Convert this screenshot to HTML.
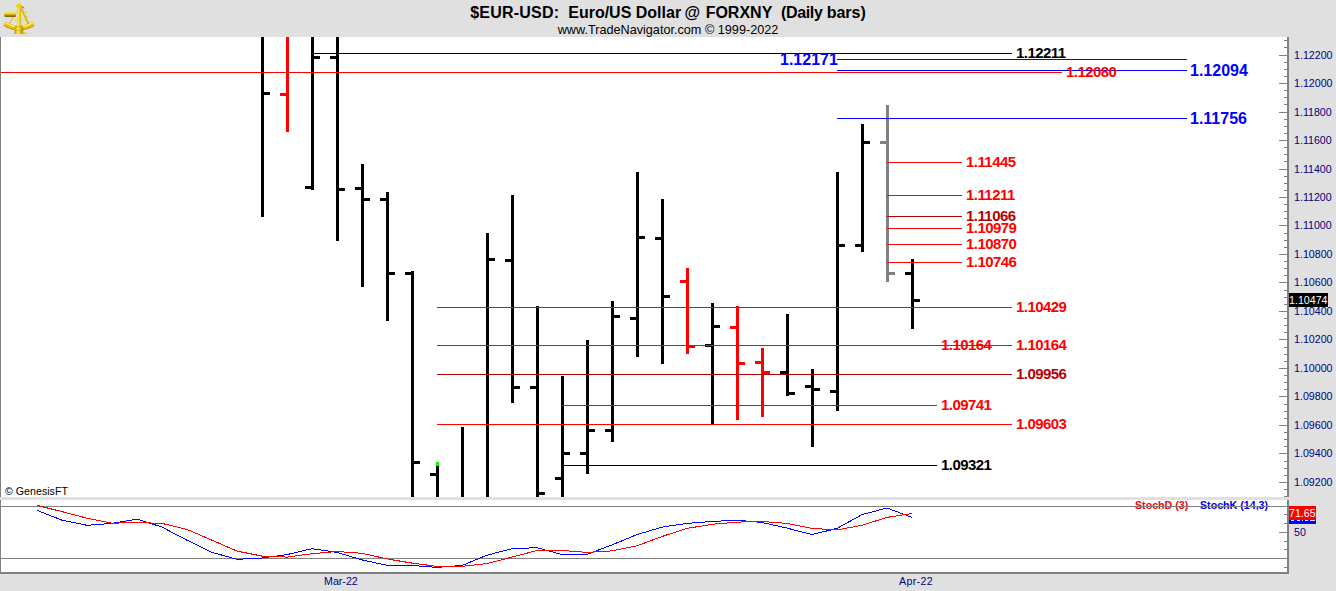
<!DOCTYPE html>
<html><head><meta charset="utf-8"><title>$EUR-USD Daily bars</title>
<style>
html,body{margin:0;padding:0;background:#e0e0e0;}
#c{position:relative;width:1336px;height:591px;overflow:hidden;background:#e0e0e0;font-family:"Liberation Sans",Arial,sans-serif;}
#c div,#c span,#c svg{position:absolute;display:block;white-space:pre;}
.t1 b,.t1 i{font:inherit;}
.t1{left:0;width:1336px;top:4px;text-align:center;font-weight:bold;font-size:16px;line-height:18px;color:#000;}
.t2{left:0;width:1336px;top:23px;text-align:center;font-size:12.67px;line-height:15px;color:#000;}
.p14{font-weight:bold;font-size:15px;line-height:16px;letter-spacing:-0.55px;}
.p16{font-weight:bold;font-size:16px;line-height:18px;}
.ax{font-size:10.67px;line-height:12px;color:#000080;}
.sm{font-size:10.67px;line-height:12px;}
.b{font-weight:bold;}
</style></head><body><div id="c">
<span class="t1"><b style="letter-spacing:.22px">$EUR-USD:</b>  Euro/US Dollar<i style="margin-left:-1px"> </i>@<i style="margin-left:1px"> </i>FORXNY  <b style="letter-spacing:-.33px">(Daily </b>bars)</span>
<span class="t2">www.TradeNavigator.com © 1999-2022</span>
<svg style="left:0;top:0" width="40" height="37" viewBox="0 0 40 37">
<defs><linearGradient id="gd" x1="0" y1="0" x2="0" y2="1"><stop offset="0" stop-color="#fff27a"/><stop offset=".45" stop-color="#e8c614"/><stop offset="1" stop-color="#8a6a00"/></linearGradient>
<linearGradient id="gh" x1="0" y1="0" x2="1" y2="0"><stop offset="0" stop-color="#c09800"/><stop offset=".4" stop-color="#ffec52"/><stop offset="1" stop-color="#b08a00"/></linearGradient></defs>
<path d="M16.4 11.5 L9.4 23.4" stroke="#e8c820" stroke-width="1.3" fill="none"/><path d="M11.5 20 L27 20" stroke="#f0da50" stroke-width=".8" fill="none"/>
<path d="M21 8 L28.6 24" stroke="#dcb810" stroke-width="1.9" fill="none"/>
<path d="M24.4 14.6 L26.6 11.6 M26 18.6 L27.8 16" stroke="#f0d428" stroke-width="1.6" fill="none"/>
<path d="M4.7 23.7 Q19.1 32.3 33.4 23.7" stroke="#a88400" stroke-width="4.6" fill="none"/>
<path d="M4.6 23.4 Q19.1 32 33.5 23.4" stroke="#e8c614" stroke-width="3.6" fill="none"/>
<path d="M5.4 22.4 Q19.1 30.6 32.8 22.4" stroke="#fff47a" stroke-width="1.2" fill="none"/>
<rect x="4.2" y="11.9" width="11.8" height="4.6" rx=".8" fill="url(#gd)"/><rect x="4.8" y="15.8" width="11" height=".9" fill="#6a5200"/>
<path d="M17 6 L21 6 L21.2 25.6 L23.2 27 L23.2 34 L14.5 34 L14.5 27 L16.8 25.6Z" fill="url(#gh)"/>
<path d="M15.2 26.8 L22.6 26.8 M15.2 30.6 L22.6 30.6" stroke="#b89400" stroke-width=".5"/>
<path d="M15.6 7.3 L16.3 4.7 L18.8 2.7 L21.3 4.7 L22.4 7.3Z" fill="#ecca1c"/><path d="M16.6 5 L18.8 3.2 L19.4 4" stroke="#fff27a" stroke-width=".7" fill="none"/>
<path d="M21.8 6.2 L23.8 8.4" stroke="#5a4600" stroke-width="1"/>
<rect x="23.2" y="32.4" width="3.4" height="1.8" fill="#ecc818"/>
</svg>
<!-- chart panes -->
<div style="left:0px;top:37px;width:1287px;height:460px;background:#fff;"></div>
<div style="left:0px;top:500px;width:1287px;height:72px;background:#fff;"></div>
<!-- price bars -->
<div style="left:261px;top:37px;width:3px;height:180px;background:#000;"></div>
<div style="left:264px;top:92px;width:6px;height:3px;background:#000;"></div>
<div style="left:286px;top:37px;width:3px;height:95px;background:#f00;"></div>
<div style="left:280px;top:93px;width:6px;height:3px;background:#f00;"></div>
<div style="left:311px;top:37px;width:3px;height:153px;background:#000;"></div>
<div style="left:305px;top:186px;width:6px;height:3px;background:#000;"></div>
<div style="left:314px;top:56px;width:6px;height:3px;background:#000;"></div>
<div style="left:336px;top:37px;width:3px;height:204px;background:#000;"></div>
<div style="left:330px;top:56px;width:6px;height:3px;background:#000;"></div>
<div style="left:339px;top:188px;width:6px;height:3px;background:#000;"></div>
<div style="left:361px;top:164px;width:3px;height:123px;background:#000;"></div>
<div style="left:355px;top:187px;width:6px;height:3px;background:#000;"></div>
<div style="left:364px;top:198px;width:6px;height:3px;background:#000;"></div>
<div style="left:386px;top:192px;width:3px;height:129px;background:#000;"></div>
<div style="left:380px;top:198px;width:6px;height:3px;background:#000;"></div>
<div style="left:389px;top:272px;width:6px;height:3px;background:#000;"></div>
<div style="left:411px;top:271px;width:3px;height:226px;background:#000;"></div>
<div style="left:405px;top:272px;width:6px;height:3px;background:#000;"></div>
<div style="left:414px;top:461px;width:6px;height:3px;background:#000;"></div>
<div style="left:436px;top:462px;width:3px;height:35px;background:#000;"></div>
<div style="left:430px;top:473px;width:6px;height:3px;background:#000;"></div>
<div style="left:461px;top:427px;width:3px;height:70px;background:#000;"></div>
<div style="left:486px;top:233px;width:3px;height:264px;background:#000;"></div>
<div style="left:489px;top:258px;width:6px;height:3px;background:#000;"></div>
<div style="left:511px;top:195px;width:3px;height:208px;background:#000;"></div>
<div style="left:505px;top:259px;width:6px;height:3px;background:#000;"></div>
<div style="left:514px;top:386px;width:6px;height:3px;background:#000;"></div>
<div style="left:536px;top:306px;width:3px;height:191px;background:#000;"></div>
<div style="left:530px;top:386px;width:6px;height:3px;background:#000;"></div>
<div style="left:539px;top:492px;width:6px;height:3px;background:#000;"></div>
<div style="left:561px;top:376px;width:3px;height:121px;background:#000;"></div>
<div style="left:555px;top:477px;width:6px;height:3px;background:#000;"></div>
<div style="left:564px;top:452px;width:6px;height:3px;background:#000;"></div>
<div style="left:586px;top:340px;width:3px;height:134px;background:#000;"></div>
<div style="left:580px;top:452px;width:6px;height:3px;background:#000;"></div>
<div style="left:589px;top:429px;width:6px;height:3px;background:#000;"></div>
<div style="left:611px;top:301px;width:3px;height:141px;background:#000;"></div>
<div style="left:605px;top:429px;width:6px;height:3px;background:#000;"></div>
<div style="left:614px;top:315px;width:6px;height:3px;background:#000;"></div>
<div style="left:636px;top:172px;width:3px;height:185px;background:#000;"></div>
<div style="left:630px;top:317px;width:6px;height:3px;background:#000;"></div>
<div style="left:639px;top:236px;width:6px;height:3px;background:#000;"></div>
<div style="left:661px;top:199px;width:3px;height:165px;background:#000;"></div>
<div style="left:655px;top:237px;width:6px;height:3px;background:#000;"></div>
<div style="left:664px;top:295px;width:6px;height:3px;background:#000;"></div>
<div style="left:686px;top:268px;width:3px;height:86px;background:#f00;"></div>
<div style="left:680px;top:280px;width:6px;height:3px;background:#f00;"></div>
<div style="left:689px;top:345px;width:6px;height:3px;background:#f00;"></div>
<div style="left:711px;top:303px;width:3px;height:122px;background:#000;"></div>
<div style="left:705px;top:344px;width:6px;height:3px;background:#000;"></div>
<div style="left:714px;top:325px;width:6px;height:3px;background:#000;"></div>
<div style="left:736px;top:306px;width:3px;height:114px;background:#f00;"></div>
<div style="left:730px;top:326px;width:6px;height:3px;background:#f00;"></div>
<div style="left:739px;top:362px;width:6px;height:3px;background:#f00;"></div>
<div style="left:761px;top:348px;width:3px;height:69px;background:#f00;"></div>
<div style="left:755px;top:361px;width:6px;height:3px;background:#f00;"></div>
<div style="left:764px;top:371px;width:6px;height:3px;background:#f00;"></div>
<div style="left:786px;top:314px;width:3px;height:82px;background:#000;"></div>
<div style="left:780px;top:371px;width:6px;height:3px;background:#000;"></div>
<div style="left:789px;top:392px;width:6px;height:3px;background:#000;"></div>
<div style="left:811px;top:369px;width:3px;height:78px;background:#000;"></div>
<div style="left:805px;top:385px;width:6px;height:3px;background:#000;"></div>
<div style="left:814px;top:388px;width:6px;height:3px;background:#000;"></div>
<div style="left:836px;top:172px;width:3px;height:239px;background:#000;"></div>
<div style="left:830px;top:390px;width:6px;height:3px;background:#000;"></div>
<div style="left:839px;top:244px;width:6px;height:3px;background:#000;"></div>
<div style="left:861px;top:124px;width:3px;height:128px;background:#000;"></div>
<div style="left:855px;top:244px;width:6px;height:3px;background:#000;"></div>
<div style="left:864px;top:141px;width:6px;height:3px;background:#000;"></div>
<div style="left:886px;top:105px;width:3px;height:177px;background:#808080;"></div>
<div style="left:880px;top:141px;width:6px;height:3px;background:#808080;"></div>
<div style="left:889px;top:272px;width:6px;height:3px;background:#808080;"></div>
<div style="left:911px;top:259px;width:3px;height:70px;background:#000;"></div>
<div style="left:905px;top:272px;width:6px;height:3px;background:#000;"></div>
<div style="left:914px;top:299px;width:6px;height:3px;background:#000;"></div>
<div style="left:436px;top:462px;width:3px;height:4px;background:#0f0;"></div>
<!-- study lines (drawn over bars) -->
<div style="left:313px;top:53px;width:699px;height:1px;background:#000;"></div>
<div style="left:1px;top:72px;width:1061px;height:1px;background:#f00;"></div>
<div style="left:837px;top:59px;width:350px;height:1px;background:#00f;"></div>
<div style="left:837px;top:70px;width:350px;height:1px;background:#00f;"></div>
<div style="left:837px;top:118px;width:350px;height:1px;background:#00f;"></div>
<div style="left:437px;top:307px;width:575px;height:1px;background:#f00;"></div>
<div style="left:437px;top:345px;width:575px;height:1px;background:#f00;"></div>
<div style="left:437px;top:374px;width:575px;height:1px;background:#b80000;"></div>
<div style="left:562px;top:405px;width:375px;height:1px;background:#f00;"></div>
<div style="left:437px;top:424px;width:575px;height:1px;background:#f00;"></div>
<div style="left:564px;top:465px;width:373px;height:1px;background:#000;"></div>
<div style="left:887px;top:162px;width:75px;height:1px;background:#f00;"></div>
<div style="left:887px;top:195px;width:75px;height:1px;background:#f00;"></div>
<div style="left:887px;top:216px;width:75px;height:1px;background:#b80000;"></div>
<div style="left:887px;top:228px;width:75px;height:1px;background:#f00;"></div>
<div style="left:887px;top:244px;width:75px;height:1px;background:#f00;"></div>
<div style="left:887px;top:262px;width:75px;height:1px;background:#f00;"></div>
<!-- price labels -->
<span class="p14" style="left:1016px;top:45px;color:#000">1.12211</span>
<span class="p14" style="left:1066px;top:64px;color:#f00">1.12080</span>
<span class="p16" style="left:780px;top:51px;color:#00f">1.12171</span>
<span class="p16" style="left:1190px;top:62px;color:#00f">1.12094</span>
<span class="p16" style="left:1190px;top:110px;color:#00f">1.11756</span>
<span class="p14" style="left:966px;top:154px;color:#f00">1.11445</span>
<span class="p14" style="left:966px;top:187px;color:#f00">1.11211</span>
<span class="p14" style="left:966px;top:208px;color:#b80000">1.11066</span>
<span class="p14" style="left:966px;top:220px;color:#f00">1.10979</span>
<span class="p14" style="left:966px;top:236px;color:#f00">1.10870</span>
<span class="p14" style="left:966px;top:254px;color:#f00">1.10746</span>
<span class="p14" style="left:1016px;top:299px;color:#f00">1.10429</span>
<span class="p14" style="left:941px;top:337px;color:#f00">1.10164</span>
<span class="p14" style="left:1016px;top:337px;color:#f00">1.10164</span>
<span class="p14" style="left:1016px;top:366px;color:#b80000">1.09956</span>
<span class="p14" style="left:941px;top:397px;color:#f00">1.09741</span>
<span class="p14" style="left:1016px;top:416px;color:#f00">1.09603</span>
<span class="p14" style="left:941px;top:457px;color:#000">1.09321</span>
<!-- right price axis -->
<div style="left:1287px;top:37px;width:2px;height:460px;background:#808080;"></div>
<div style="left:1284px;top:40px;width:3px;height:1px;background:#808080;"></div>
<div style="left:1284px;top:47px;width:3px;height:1px;background:#808080;"></div>
<div style="left:1279px;top:55px;width:8px;height:1px;background:#808080;"></div>
<div style="left:1284px;top:62px;width:3px;height:1px;background:#808080;"></div>
<div style="left:1284px;top:69px;width:3px;height:1px;background:#808080;"></div>
<div style="left:1284px;top:76px;width:3px;height:1px;background:#808080;"></div>
<div style="left:1279px;top:83px;width:8px;height:1px;background:#808080;"></div>
<div style="left:1284px;top:90px;width:3px;height:1px;background:#808080;"></div>
<div style="left:1284px;top:97px;width:3px;height:1px;background:#808080;"></div>
<div style="left:1284px;top:104px;width:3px;height:1px;background:#808080;"></div>
<div style="left:1279px;top:112px;width:8px;height:1px;background:#808080;"></div>
<div style="left:1284px;top:119px;width:3px;height:1px;background:#808080;"></div>
<div style="left:1284px;top:126px;width:3px;height:1px;background:#808080;"></div>
<div style="left:1284px;top:133px;width:3px;height:1px;background:#808080;"></div>
<div style="left:1279px;top:140px;width:8px;height:1px;background:#808080;"></div>
<div style="left:1284px;top:147px;width:3px;height:1px;background:#808080;"></div>
<div style="left:1284px;top:154px;width:3px;height:1px;background:#808080;"></div>
<div style="left:1284px;top:161px;width:3px;height:1px;background:#808080;"></div>
<div style="left:1279px;top:169px;width:8px;height:1px;background:#808080;"></div>
<div style="left:1284px;top:176px;width:3px;height:1px;background:#808080;"></div>
<div style="left:1284px;top:183px;width:3px;height:1px;background:#808080;"></div>
<div style="left:1284px;top:190px;width:3px;height:1px;background:#808080;"></div>
<div style="left:1279px;top:197px;width:8px;height:1px;background:#808080;"></div>
<div style="left:1284px;top:204px;width:3px;height:1px;background:#808080;"></div>
<div style="left:1284px;top:211px;width:3px;height:1px;background:#808080;"></div>
<div style="left:1284px;top:218px;width:3px;height:1px;background:#808080;"></div>
<div style="left:1279px;top:225px;width:8px;height:1px;background:#808080;"></div>
<div style="left:1284px;top:233px;width:3px;height:1px;background:#808080;"></div>
<div style="left:1284px;top:240px;width:3px;height:1px;background:#808080;"></div>
<div style="left:1284px;top:247px;width:3px;height:1px;background:#808080;"></div>
<div style="left:1279px;top:254px;width:8px;height:1px;background:#808080;"></div>
<div style="left:1284px;top:261px;width:3px;height:1px;background:#808080;"></div>
<div style="left:1284px;top:268px;width:3px;height:1px;background:#808080;"></div>
<div style="left:1284px;top:275px;width:3px;height:1px;background:#808080;"></div>
<div style="left:1279px;top:282px;width:8px;height:1px;background:#808080;"></div>
<div style="left:1284px;top:290px;width:3px;height:1px;background:#808080;"></div>
<div style="left:1284px;top:297px;width:3px;height:1px;background:#808080;"></div>
<div style="left:1284px;top:304px;width:3px;height:1px;background:#808080;"></div>
<div style="left:1279px;top:311px;width:8px;height:1px;background:#808080;"></div>
<div style="left:1284px;top:318px;width:3px;height:1px;background:#808080;"></div>
<div style="left:1284px;top:325px;width:3px;height:1px;background:#808080;"></div>
<div style="left:1284px;top:332px;width:3px;height:1px;background:#808080;"></div>
<div style="left:1279px;top:339px;width:8px;height:1px;background:#808080;"></div>
<div style="left:1284px;top:347px;width:3px;height:1px;background:#808080;"></div>
<div style="left:1284px;top:354px;width:3px;height:1px;background:#808080;"></div>
<div style="left:1284px;top:361px;width:3px;height:1px;background:#808080;"></div>
<div style="left:1279px;top:368px;width:8px;height:1px;background:#808080;"></div>
<div style="left:1284px;top:375px;width:3px;height:1px;background:#808080;"></div>
<div style="left:1284px;top:382px;width:3px;height:1px;background:#808080;"></div>
<div style="left:1284px;top:389px;width:3px;height:1px;background:#808080;"></div>
<div style="left:1279px;top:396px;width:8px;height:1px;background:#808080;"></div>
<div style="left:1284px;top:404px;width:3px;height:1px;background:#808080;"></div>
<div style="left:1284px;top:411px;width:3px;height:1px;background:#808080;"></div>
<div style="left:1284px;top:418px;width:3px;height:1px;background:#808080;"></div>
<div style="left:1279px;top:425px;width:8px;height:1px;background:#808080;"></div>
<div style="left:1284px;top:432px;width:3px;height:1px;background:#808080;"></div>
<div style="left:1284px;top:439px;width:3px;height:1px;background:#808080;"></div>
<div style="left:1284px;top:446px;width:3px;height:1px;background:#808080;"></div>
<div style="left:1279px;top:453px;width:8px;height:1px;background:#808080;"></div>
<div style="left:1284px;top:461px;width:3px;height:1px;background:#808080;"></div>
<div style="left:1284px;top:468px;width:3px;height:1px;background:#808080;"></div>
<div style="left:1284px;top:475px;width:3px;height:1px;background:#808080;"></div>
<div style="left:1279px;top:482px;width:8px;height:1px;background:#808080;"></div>
<div style="left:1284px;top:489px;width:3px;height:1px;background:#808080;"></div>
<div style="left:1284px;top:496px;width:3px;height:1px;background:#808080;"></div>
<span class="ax" style="left:1294px;top:49px">1.12200</span>
<span class="ax" style="left:1294px;top:77px">1.12000</span>
<span class="ax" style="left:1294px;top:106px">1.11800</span>
<span class="ax" style="left:1294px;top:134px">1.11600</span>
<span class="ax" style="left:1294px;top:163px">1.11400</span>
<span class="ax" style="left:1294px;top:191px">1.11200</span>
<span class="ax" style="left:1294px;top:219px">1.11000</span>
<span class="ax" style="left:1294px;top:248px">1.10800</span>
<span class="ax" style="left:1294px;top:305px">1.10400</span>
<span class="ax" style="left:1294px;top:333px">1.10200</span>
<span class="ax" style="left:1294px;top:362px">1.10000</span>
<span class="ax" style="left:1294px;top:390px">1.09800</span>
<span class="ax" style="left:1294px;top:419px">1.09600</span>
<span class="ax" style="left:1294px;top:447px">1.09400</span>
<span class="ax" style="left:1294px;top:476px">1.09200</span>
<span class="ax" style="left:1294px;top:276px">1.10600</span>
<span class="ax" style="left:1289px;top:293px;width:39px;height:14px;background:#000;color:#fff;line-height:14px;text-indent:0px">1.10474</span>
<!-- stochastic pane -->
<span class="sm b" style="left:1135px;top:499px;color:#f00">StochD (3)</span>
<span class="sm b" style="left:1200px;top:499px;color:#00f">StochK (14,3)</span>
<div style="left:0px;top:506px;width:1287px;height:1px;background:#808080;"></div>
<div style="left:0px;top:558px;width:1287px;height:1px;background:#808080;"></div>
<div style="left:1287px;top:500px;width:2px;height:74px;background:#808080;"></div>
<div style="left:0px;top:572px;width:1289px;height:2px;background:#808080;"></div>
<div style="left:0px;top:37px;width:1px;height:460px;background:#808080;"></div>
<div style="left:0px;top:500px;width:1px;height:74px;background:#808080;"></div>
<div style="left:1284px;top:514px;width:3px;height:1px;background:#808080;"></div>
<div style="left:1284px;top:523px;width:3px;height:1px;background:#808080;"></div>
<div style="left:1279px;top:532px;width:8px;height:1px;background:#808080;"></div>
<div style="left:1284px;top:541px;width:3px;height:1px;background:#808080;"></div>
<div style="left:1284px;top:549px;width:3px;height:1px;background:#808080;"></div>
<div style="left:1284px;top:567px;width:3px;height:1px;background:#808080;"></div>
<svg style="left:0;top:500px" width="1287" height="72" viewBox="0 0 1287 72" shape-rendering="crispEdges"><polyline points="37,10.3 62,20.2 87,25.3 112,23.4 137,19.1 162,27.1 187,40.2 212,52.4 237,59.3 262,58 287,54.6 312,48.7 337,52.4 362,59.9 387,65.3 412,65.5 437,67.4 462,65.5 487,55.2 512,48.7 537,47.7 562,54.6 587,54.3 612,44.9 637,34.6 662,27.1 687,23.4 712,21.5 737,20.2 762,22.5 787,28.1 812,34.6 837,28.4 862,14.6 887,8 912,17.4" fill="none" stroke="#00f" stroke-width="1"/><polyline points="37,5.4 62,11.6 87,18.2 112,23.2 137,22.5 162,23.4 187,29.4 212,40.2 237,51.1 262,56.1 287,57.1 312,53.7 337,51.5 362,53.3 387,58.9 412,63.1 437,66.4 462,66.4 487,63.6 512,57.1 537,50.5 562,50.5 587,52.4 612,50.9 637,45.8 662,36.5 687,28.4 712,24.3 737,22.1 762,21.5 787,23.4 812,28.4 837,29.9 862,25.3 887,17.4 912,13.5" fill="none" stroke="#f00" stroke-width="1"/></svg>
<div style="left:1289px;top:520px;width:27px;height:4px;background:#00f;"></div>
<div style="left:1291px;top:520px;width:3px;height:1px;background:rgba(255,255,255,.85);"></div>
<div style="left:1297px;top:520px;width:3px;height:1px;background:rgba(255,255,255,.85);"></div>
<div style="left:1302px;top:520px;width:1px;height:1px;background:rgba(255,255,255,.85);"></div>
<div style="left:1305px;top:520px;width:3px;height:1px;background:rgba(255,255,255,.85);"></div>
<div style="left:1310px;top:520px;width:5px;height:1px;background:rgba(255,255,255,.85);"></div>
<span class="sm" style="left:1289px;top:506px;width:27px;height:14px;line-height:14px;background:#f00;color:#fff">71.65</span>
<span class="ax" style="left:1294px;top:526px">50</span>
<span class="sm" style="left:5px;top:485px;color:#000">© GenesisFT</span>
<span class="ax" style="left:324px;top:575px">Mar-22</span>
<span class="ax" style="left:899px;top:575px;letter-spacing:.33px">Apr-22</span>
</div></body></html>
